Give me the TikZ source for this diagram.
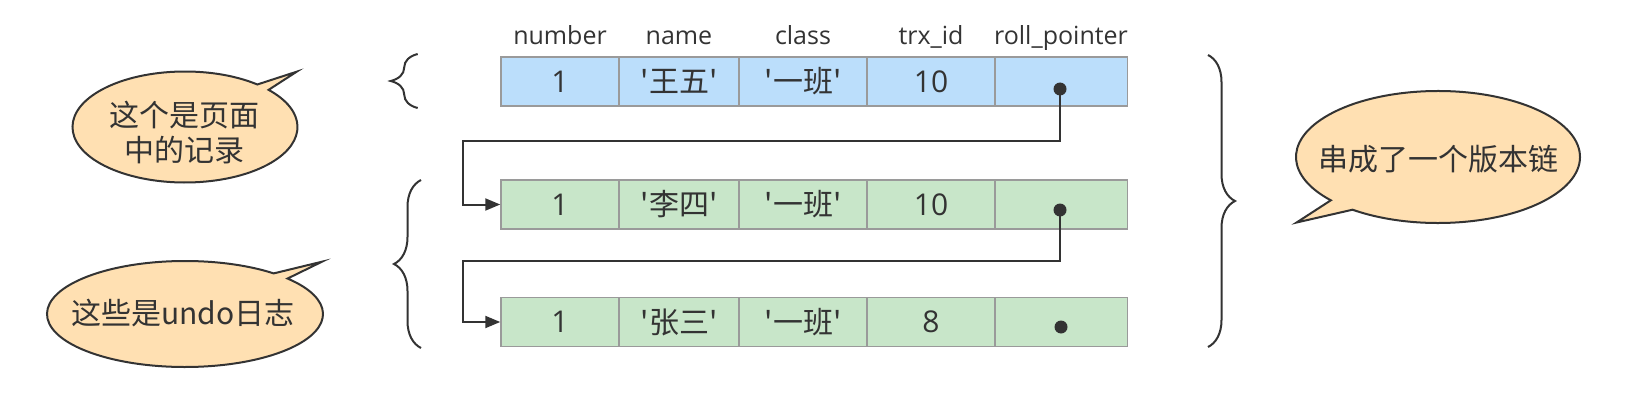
\documentclass[tikz,border=0pt]{standalone}
\usepackage{xcolor}
\usepackage{fontspec}
\setmainfont{Open Sans}
\newfontfamily\cjk{Noto Sans CJK SC}[Ligatures=TeXOff]
\usepackage{tikz}
\usetikzlibrary{arrows.meta,decorations.pathreplacing}
\definecolor{ink}{HTML}{333333}
\definecolor{rowblue}{HTML}{BBDEFB}
\definecolor{rowgreen}{HTML}{C8E6C9}
\definecolor{edge}{HTML}{9A9A9A}
\definecolor{note}{HTML}{FFE0B2}

\begin{document}
\begin{tikzpicture}[x=1pt,y=-1pt,
							every node/.style={text=ink,inner sep=0pt},
							cell/.style={draw=edge,line width=1.5pt,minimum height=49pt,font=\fontsize{30}{36}\selectfont},
							colhead/.style={anchor=base,font=\fontsize{25}{30}\selectfont},
							knob/.style={circle,fill=ink,minimum size=13pt},
							link/.style={draw=ink,line width=2pt,-{Triangle[length=15pt,width=12pt]}},
							bubble/.style={draw=ink,line width=2pt,fill=note},
							say/.style={font=\cjk\fontsize{30}{35}\selectfont,align=center},
							curly/.style={draw=ink,line width=2pt,decorate,decoration={brace,amplitude=27pt}}]
			\useasboundingbox (0,0) rectangle (1626,412);
			% column heads
			\node[colhead] (h1) at (560,45) {number};
			\node[colhead] (h2) at (679,45) {name};
			\node[colhead] (h3) at (803,45) {class};
			\node[colhead] (h4) at (931,45) {trx\_id};
			\node[colhead] (h5) at (1061,45) {roll\_pointer};
			% record in the page
			\node[cell,fill=rowblue,minimum width=118pt] (a1) at (560,81.5) {1};
			\node[cell,fill=rowblue,minimum width=120pt] (a2) at (679,81.5) {\cjk '王五'};
			\node[cell,fill=rowblue,minimum width=128pt] (a3) at (803,81.5) {\cjk '一班'};
			\node[cell,fill=rowblue,minimum width=128pt] (a4) at (931,81.5) {10};
			\node[cell,fill=rowblue,minimum width=132.5pt] (a5) at (1061.25,81.5) {};
			% undo records
			\node[cell,fill=rowgreen,minimum width=118pt] (b1) at (560,204.5) {1};
			\node[cell,fill=rowgreen,minimum width=120pt] (b2) at (679,204.5) {\cjk '李四'};
			\node[cell,fill=rowgreen,minimum width=128pt] (b3) at (803,204.5) {\cjk '一班'};
			\node[cell,fill=rowgreen,minimum width=128pt] (b4) at (931,204.5) {10};
			\node[cell,fill=rowgreen,minimum width=132.5pt] (b5) at (1061.25,204.5) {};
			\node[cell,fill=rowgreen,minimum width=118pt] (c1) at (560,322) {1};
			\node[cell,fill=rowgreen,minimum width=120pt] (c2) at (679,322) {\cjk '张三'};
			\node[cell,fill=rowgreen,minimum width=128pt] (c3) at (803,322) {\cjk '一班'};
			\node[cell,fill=rowgreen,minimum width=128pt] (c4) at (931,322) {8};
			\node[cell,fill=rowgreen,minimum width=132.5pt] (c5) at (1061.25,322) {};
			% roll pointers
			\node[knob] (p1) at (1060,89) {};
			\node[knob] (p2) at (1060,210) {};
			\node[knob] (p3) at (1061,327) {};
			\coordinate (k1) at (463,141);
			\coordinate (k2) at (463,261);
			\draw[link] (p1.center) |- (k1) |- (b1.west);
			\draw[link] (p2.center) |- (k2) |- (c1.west);
			% braces
			\draw[curly] (417.7,108) -- (417.7,54);
			\draw[curly] (421,348) -- (421,180);
			\draw[curly] (1208,55) -- (1208,347);
			% speech bubbles
			\draw[bubble] (185,127) ++(50:112.5pt and 55.5pt) arc[start angle=50,end angle=402,x radius=112.5pt,y radius=55.5pt] -- (296.7,71.7) -- cycle;
			\draw[bubble] (185,314) ++(50:138pt and 53pt) arc[start angle=50,end angle=402,x radius=138pt,y radius=53pt] -- (322,261.7) -- cycle;
			\draw[bubble] (1438,157) ++(233:142pt and 66pt) arc[start angle=233,end angle=581,x radius=142pt,y radius=66pt] -- (1296.6,222.5) -- cycle;
			\node[say] (t1) at (184,132.5) {这个是页面\\中的记录};
			\node[say] (t2) at (183,313) {这些是undo日志};
			\node[say] (t3) at (1438.5,159) {串成了一个版本链};
		\end{tikzpicture}
\end{document}
